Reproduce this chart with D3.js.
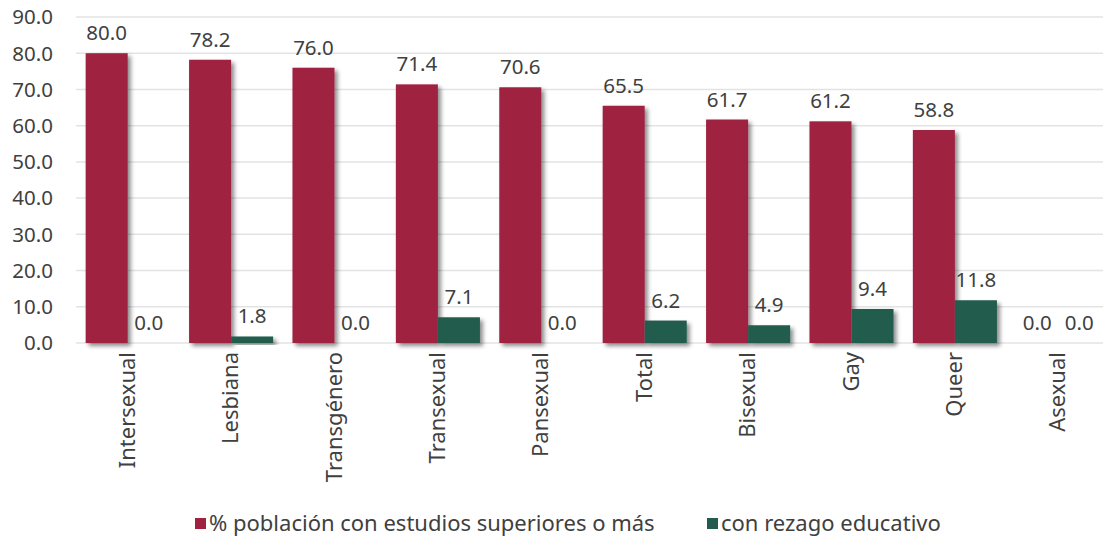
<!DOCTYPE html>
<html>
<head>
<meta charset="utf-8">
<script src="https://cdn.jsdelivr.net/npm/d3@7"></script>
<style>
  body { margin: 0; background: #fff; }
  text { font-family: "Noto Sans", "Open Sans", sans-serif; fill: #404040; }
</style>
</head>
<body>
<script>
const categories = ["Intersexual", "Lesbiana", "Transgénero", "Transexual", "Pansexual", "Total", "Bisexual", "Gay", "Queer", "Asexual"]
const superiores = [80.0, 78.2, 76.0, 71.4, 70.6, 65.5, 61.7, 61.2, 58.8, 0.0]
const rezago = [0.0, 1.8, 0.0, 7.1, 0.0, 6.2, 4.9, 9.4, 11.8, 0.0]
const seriesNames = ["% población con estudios superiores o más", "con rezago educativo"]
const yTicks = [0, 10, 20, 30, 40, 50, 60, 70, 80, 90]

const colors = ["#9f2241", "#235b4e"]
const W = 1103, H = 540

const svg = d3.select("body").append("svg")
    .attr("width", W)
    .attr("height", H)

// drop shadow for bars
const f = svg.append("defs").append("filter")
    .attr("id", "shadow")
    .attr("x", "-20%").attr("y", "-20%")
    .attr("width", "150%").attr("height", "150%")
f.append("feDropShadow")
    .attr("dx", 3).attr("dy", 3)
    .attr("stdDeviation", 2.2)
    .attr("flood-color", "#000")
    .attr("flood-opacity", 0.45)

var x = d3.scaleBand().domain(categories).range([76, 1110])
var xs = d3.scaleBand().domain([0, 1]).range([0, x.bandwidth()]).paddingOuter(0.23).paddingInner(0)
var y = d3.scaleLinear().domain([0, 90]).range([343, 17])

// grid
svg.append("g").selectAll("line")
    .data(yTicks)
    .enter().append("line")
    .attr("x1", 76).attr("x2", W)
    .attr("y1", d => y(d)).attr("y2", d => y(d))
    .attr("stroke", "#e3e3e3")
    .attr("stroke-width", 1.5)

// y labels
svg.append("g").selectAll("text")
    .data(yTicks)
    .enter().append("text")
    .attr("x", 53)
    .attr("y", d => y(d))
    .attr("dy", "0.36em")
    .attr("text-anchor", "end")
    .style("font-size", "20.5px")
    .text(d => d.toFixed(1))

const rows = categories.map((c, i) => ({ c: c, v: [superiores[i], rezago[i]] }))

const grp = svg.append("g").selectAll("g")
    .data(rows)
    .enter().append("g")
    .attr("transform", d => "translate(" + x(d.c) + ",0)")

grp.selectAll("rect")
    .data(d => d.v.map((v, k) => ({ v: v, k: k })).filter(d => d.v > 0))
    .enter().append("rect")
    .attr("x", d => xs(d.k))
    .attr("width", xs.bandwidth())
    .attr("y", d => y(d.v))
    .attr("height", d => y(0) - y(d.v))
    .attr("fill", d => colors[d.k])
    .attr("filter", "url(#shadow)")

grp.selectAll("text.val")
    .data(d => d.v.map((v, k) => ({ v: v, k: k })))
    .enter().append("text")
    .attr("class", "val")
    .attr("x", d => xs(d.k) + xs.bandwidth() / 2)
    .attr("y", d => y(d.v) - 13)
    .attr("text-anchor", "middle")
    .style("font-size", "20.5px")
    .text(d => d.v.toFixed(1))

// category labels
svg.append("g").selectAll("text")
    .data(categories)
    .enter().append("text")
    .attr("transform", d => "translate(" + (x(d) + x.bandwidth() / 2 + 7) + ",352) rotate(-90)")
    .attr("text-anchor", "end")
    .style("font-size", "22px")
    .text(d => d)

// legend
const legX = [195, 707]
const leg = svg.append("g").selectAll("g")
    .data(seriesNames)
    .enter().append("g")
    .attr("transform", (d, i) => "translate(" + legX[i] + ",518)")
leg.append("rect")
    .attr("width", 11).attr("height", 11)
    .attr("fill", (d, i) => colors[i])
leg.append("text")
    .attr("x", 14).attr("y", 5.5)
    .attr("dy", "0.36em")
    .style("font-size", "22px")
    .text(d => d)
</script>
</body>
</html>
